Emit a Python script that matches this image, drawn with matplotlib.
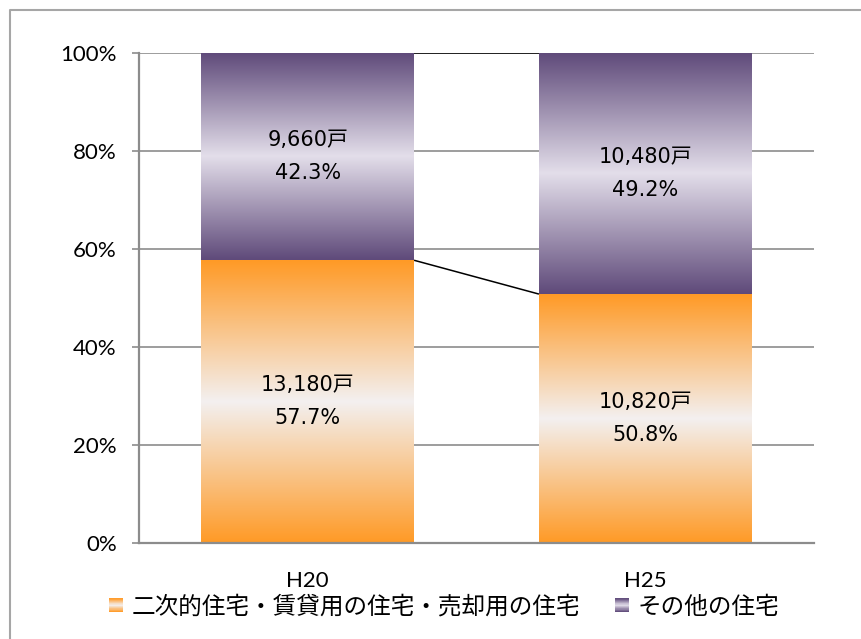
import numpy as np
import matplotlib
matplotlib.use('Agg')
import matplotlib.pyplot as plt
from matplotlib.colors import LinearSegmentedColormap
from matplotlib.patches import Rectangle
from matplotlib.lines import Line2D
from matplotlib.legend_handler import HandlerBase

# ---- data ----
categories = ['H20', 'H25']
series_names = ['二次的住宅・賃貸用の住宅・売却用の住宅', 'その他の住宅']
counts_second = [13180, 10820]
counts_other = [9660, 10480]
pct_second = [57.7, 50.8]
pct_other = [42.3, 49.2]
yticks = [0, 20, 40, 60, 80, 100]
ytick_labels = ['0%', '20%', '40%', '60%', '80%', '100%']

# ---- styles ----
orange_cmap = LinearSegmentedColormap.from_list(
    'og', [(0.0, '#FF9A26'), (0.5, '#F3F0F0'), (1.0, '#FF9A26')])
purple_cmap = LinearSegmentedColormap.from_list(
    'pg', [(0.0, '#5F4A7A'), (0.5, '#E3DEEA'), (1.0, '#5F4A7A')])
grid_color = '#8C8C8C'
tick_font = 'Lato'
label_font = ['DejaVu Sans', 'Noto Sans CJK JP']
cjk_font = ['Noto Sans CJK JP', 'DejaVu Sans']

W, H = 862, 639
fig = plt.figure(figsize=(W / 100, H / 100), dpi=100)
ax = fig.add_axes([139 / W, 1 - 543 / H, (814 - 139) / W, (543 - 53) / H])

x = np.arange(len(categories))
bw = 0.63


def grad_fill(patch, cmap):
    x0, y0 = patch.get_x(), patch.get_y()
    w, h = patch.get_width(), patch.get_height()
    img = np.linspace(0, 1, 256).reshape(-1, 1)
    im = ax.imshow(img, cmap=cmap, aspect='auto', origin='lower',
                   extent=(x0, x0 + w, y0, y0 + h), zorder=2,
                   interpolation='bilinear')
    im.set_clip_path(patch)


bars1 = ax.bar(x, pct_second, width=bw, facecolor='none', edgecolor='none', zorder=2)
bars2 = ax.bar(x, pct_other, width=bw, bottom=pct_second, facecolor='none',
               edgecolor='none', zorder=2)
for p in bars1:
    grad_fill(p, orange_cmap)
for p in bars2:
    grad_fill(p, purple_cmap)

# series lines
tops = [a + b for a, b in zip(pct_second, pct_other)]
ax.plot([x[0] + bw / 2, x[1] - bw / 2], [pct_second[0], pct_second[1]],
        color='black', lw=1.1, zorder=3, solid_capstyle='butt')
ax.plot([x[0] + bw / 2, x[1] - bw / 2], [tops[0], tops[1]],
        color='black', lw=1.1, zorder=3, solid_capstyle='butt')

# data labels
for i in range(len(categories)):
    ax.text(x[i], pct_second[i] / 2, f'{counts_second[i]:,}戸\n{pct_second[i]:.1f}%',
            ha='center', va='center', fontsize=15, family=label_font,
            linespacing=1.85, zorder=4)
    ax.text(x[i], pct_second[i] + pct_other[i] / 2,
            f'{counts_other[i]:,}戸\n{pct_other[i]:.1f}%',
            ha='center', va='center', fontsize=15, family=label_font,
            linespacing=1.85, zorder=4)

ax.set_xlim(-0.5, 1.5)
ax.set_ylim(0, 100)
ax.set_yticks(yticks)
ax.set_yticklabels(ytick_labels, family=tick_font, fontsize=16)
ax.set_xticks(x)
ax.set_xticklabels(categories, family=tick_font, fontsize=16)
ax.tick_params(axis='y', length=5, width=1.2, color=grid_color, pad=11)
ax.tick_params(axis='x', length=0, pad=20)
ax.yaxis.grid(True, color=grid_color, lw=1.2)
ax.set_axisbelow(True)
for s in ['top', 'right']:
    ax.spines[s].set_visible(False)
for s in ['left', 'bottom']:
    ax.spines[s].set_color(grid_color)
    ax.spines[s].set_linewidth(1.6)


class GradHandler(HandlerBase):
    def __init__(self, cmap):
        super().__init__()
        self.cmap = cmap

    def create_artists(self, legend, orig_handle, xdescent, ydescent,
                       width, height, fontsize, trans):
        n = 24
        arts = []
        for i in range(n):
            c = self.cmap((i + 0.5) / n)
            r = Rectangle((-xdescent, -ydescent + height * i / n), width,
                          height / n * 1.15, facecolor=c, edgecolor='none',
                          lw=0, transform=trans)
            arts.append(r)
        return arts


h1 = Rectangle((0, 0), 1, 1)
h2 = Rectangle((0, 0), 1, 1)
fig.legend([h1, h2], series_names, loc='center',
           bbox_to_anchor=(444 / W, 1 - 607 / H), ncol=2, frameon=False,
           prop={'family': cjk_font, 'size': 17},
           handler_map={h1: GradHandler(orange_cmap), h2: GradHandler(purple_cmap)},
           handlelength=0.62, handleheight=0.5, handletextpad=0.35,
           columnspacing=1.45, borderpad=0)

# outer chart-area frame
fig.add_artist(Line2D([10 / W, 10 / W, 1.0], [0.0, 1 - 10 / H, 1 - 10 / H],
                      transform=fig.transFigure, color='#A6A6A6', lw=1.5))

fig.savefig('out.png', dpi=100)
